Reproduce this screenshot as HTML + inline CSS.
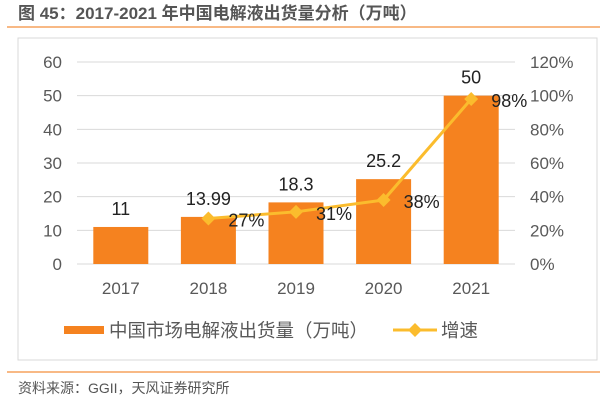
<!DOCTYPE html>
<html><head><meta charset="utf-8"><style>
body{margin:0;width:600px;height:400px;background:#fff;overflow:hidden;font-family:"Liberation Sans","Noto Sans CJK SC",sans-serif;}
</style></head><body>
<svg width="600" height="400" xmlns="http://www.w3.org/2000/svg" font-family="Liberation Sans, Noto Sans CJK SC, sans-serif">
<text x="18" y="19" font-size="17" font-weight="bold" fill="#555">图 45：2017-2021 年中国电解液出货量分析（万吨）</text>
<line x1="7" y1="27" x2="600" y2="27" stroke="#f5a25d" stroke-width="1.5"/>
<rect x="18" y="38" width="579" height="322" fill="none" stroke="#d9d9d9"/>
<g id="grid"></g><g id="bars"></g><g id="line"></g><g id="labels"></g>
<g>
<rect x="64" y="326" width="40" height="8" fill="#f5821f"/>
<text x="109" y="337" font-size="18.5" fill="#595959">中国市场电解液出货量（万吨）</text>
<line x1="393" y1="330" x2="437" y2="330" stroke="#fbbc2d" stroke-width="3"/>
<path d="M415 323L422 330L415 337L408 330Z" fill="#fbbc2d"/>
<text x="441" y="337" font-size="18.5" fill="#595959">增速</text>
</g>
<line x1="7" y1="372" x2="600" y2="372" stroke="#f5a25d" stroke-width="1.5"/>
<text x="18" y="393" font-size="14" fill="#555">资料来源：GGII，天风证券研究所</text>
</svg>
<script>
const categories=["2017","2018","2019","2020","2021"];
const volumes=[11,13.99,18.3,25.2,50];
const volumeLabels=["11","13.99","18.3","25.2","50"];
const growth=[null,27,31,38,98];
const growthLabels=["","27%","31%","38%","98%"];
const leftTicks=[0,10,20,30,40,50,60];
const rightTicks=["0%","20%","40%","60%","80%","100%","120%"];
const NS="http://www.w3.org/2000/svg";
const x0=77,x1=515,yTop=62,yBot=264;
const step=(x1-x0)/categories.length;
const xc=i=>x0+step*(i+0.5);
const yL=v=>yBot-(v/60)*(yBot-yTop);
const yR=v=>yBot-(v/120)*(yBot-yTop);
function mk(p,t,a){const e=document.createElementNS(NS,t);for(const k in a)e.setAttribute(k,a[k]);p.appendChild(e);return e;}
const grid=document.getElementById('grid'),bars=document.getElementById('bars'),line=document.getElementById('line'),labels=document.getElementById('labels');
leftTicks.forEach((t,i)=>{
 const g=mk(grid,'line',{x1:x0,x2:x1,y1:yL(t),y2:yL(t),stroke:'#d9d9d9','stroke-width':1});
 
 
 const a=mk(labels,'text',{x:62,y:yL(t)+6,'font-size':17,fill:'#595959','text-anchor':'end'});a.textContent=t;
 
 
 const b=mk(labels,'text',{x:530,y:yL(t)+6,'font-size':17,fill:'#595959'});b.textContent=rightTicks[i];
 
 
});
categories.forEach((c,i)=>{
 const r=mk(bars,'rect',{x:xc(i)-27.5,y:yL(volumes[i]),width:55,height:yBot-yL(volumes[i]),fill:'#f5821f'});
 
 
 const t=mk(labels,'text',{x:xc(i),y:yL(volumes[i])-12,'font-size':18,fill:'#222','text-anchor':'middle'});t.textContent=volumeLabels[i];
 
 
 const x=mk(labels,'text',{x:xc(i),y:294,'font-size':17,fill:'#595959','text-anchor':'middle'});x.textContent=c;
 
 
});
let pts=[];growth.forEach((g,i)=>{if(g!==null)pts.push([xc(i),yR(g)]);});
const pl=mk(line,'polyline',{points:pts.map(p=>p.join(',')).join(' '),fill:'none',stroke:'#fbbc2d','stroke-width':3});


growth.forEach((g,i)=>{if(g===null)return;const x=xc(i),y=yR(g);
 const m=mk(line,'path',{d:`M${x} ${y-7}L${x+7} ${y}L${x} ${y+7}L${x-7} ${y}Z`,fill:'#fbbc2d'});
 
 
 const t=mk(labels,'text',{x:x+20,y:y+8,'font-size':18,fill:'#222'});t.textContent=growthLabels[i];
 
 
});
</script>
</body></html>
